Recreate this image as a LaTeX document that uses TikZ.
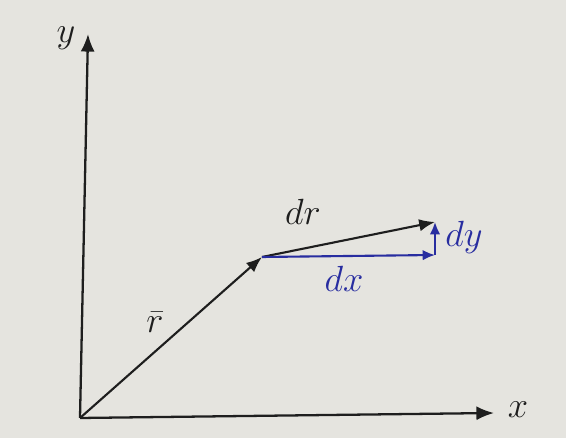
\documentclass[tikz,border=0pt]{standalone}
\usepackage{amsmath}
\usetikzlibrary{arrows.meta}

\definecolor{paper}{RGB}{229,228,223}
\definecolor{inkblue}{RGB}{40,45,160}
\definecolor{ink}{RGB}{30,30,30}

\begin{document}
\begin{tikzpicture}[
    x=0.02cm, y=-0.02cm,
    axis/.style={draw=ink, line width=1.3pt, -{Latex[length=10pt,width=8pt]}},
    vec/.style={draw=ink, line width=1.2pt, -{Latex[length=9pt,width=7pt]}},
    comp/.style={draw=inkblue, line width=1.2pt, -{Latex[length=7pt,width=6pt]}},
    lbl/.style={font=\huge, text=ink},
    blbl/.style={font=\huge, text=inkblue}
]
  \fill[paper] (0,0) rectangle (566,438);
  \useasboundingbox (0,0) rectangle (566,438);

  % points
  \coordinate (O)  at (80,418);
  \coordinate (yt) at (88,34);
  \coordinate (xt) at (494,413);
  \coordinate (P)  at (262,257);
  \coordinate (Q)  at (435,222);
  \coordinate (R)  at (435,255);

  % axes
  \draw[axis] (O) -- (yt);
  \draw[axis] (O) -- (xt);
  \node[lbl] (ylab) at (66,38)   {$y$};
  \node[lbl] (xlab) at (518,410) {$x$};

  % position vector and step
  \draw[vec] (O) -- (P);
  \draw[vec] (P) -- (Q);
  \node[lbl] (rlab)  at (155,322) {$\bar{r}$};
  \node[lbl] (drlab) at (303,212) {$dr$};

  % components
  \draw[comp] (P) -- (R);
  \draw[comp] (R) -- (Q);
  \node[blbl] (dxlab) at (344,279) {$dx$};
  \node[blbl] (dylab) at (464,237) {$dy$};
\end{tikzpicture}
\end{document}
